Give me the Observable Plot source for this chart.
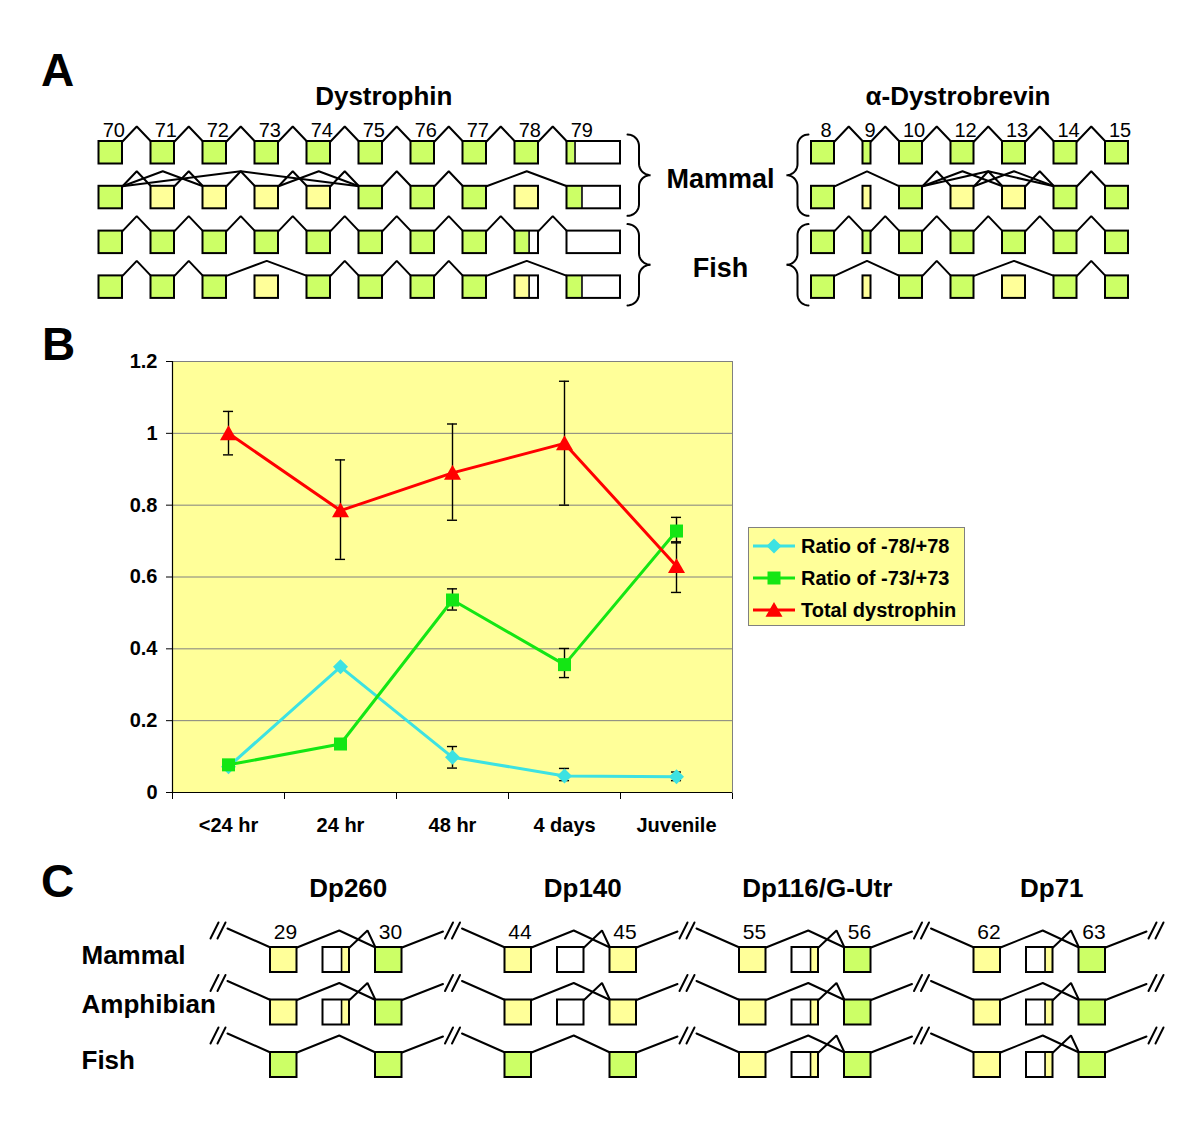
<!DOCTYPE html>
<html><head><meta charset="utf-8">
<script src="https://cdn.jsdelivr.net/npm/d3@7"></script>
<script src="https://cdn.jsdelivr.net/npm/@observablehq/plot@0.6"></script>
<style>
body{margin:0;background:#fff;}
#fig{position:relative;width:1200px;height:1129px;background:#fff;overflow:hidden;}
#fig svg{position:absolute;left:0;}
</style></head>
<body><div id="fig"></div>
<script>
// ================= DATA =================
// ---- Panel B: line chart ----
const stages = ["<24 hr", "24 hr", "48 hr", "4 days", "Juvenile"];
const seriesNames = ["Ratio of -78/+78", "Ratio of -73/+73", "Total dystrophin"];
const ratio78     = [0.072, 0.350, 0.098, 0.046, 0.044];
const ratio78Low  = [null,  null,  0.068, 0.033, 0.033];
const ratio78High = [null,  null,  0.128, 0.067, 0.057];
const ratio73     = [0.077, 0.135, 0.536, 0.356, 0.728];
const ratio73Low  = [null,  null,  0.508, 0.320, 0.695];
const ratio73High = [null,  null,  0.567, 0.401, 0.766];
const totalDys     = [1.000, 0.785, 0.890, 0.972, 0.630];
const totalDysLow  = [0.940, 0.649, 0.758, 0.800, 0.557];
const totalDysHigh = [1.061, 0.926, 1.026, 1.145, 0.698];
const yTicks = [0, 0.2, 0.4, 0.6, 0.8, 1.0, 1.2];

// ---- Panel A: exon structures ----
const dystrophinExons = ["70","71","72","73","74","75","76","77","78","79"];
const dystrobrevinExons = ["8","9","10","12","13","14","15"];
// G = constitutive (green), Y = alternative (yellow), W = non-coding (white); "A/B:f" = split exon, f = share of first part
const dystrophinStates = [
  ["G","G","G","G","G","G","G","G","G","G/W:0.15"],
  ["G","Y","Y","Y","Y","G","G","G","Y","G/W:0.28"],
  ["G","G","G","G","G","G","G","G","G/W:0.6","W"],
  ["G","G","G","Y","G","G","G","G","Y/W:0.6","G/W:0.28"]
];
const dystrophinSplices = [
  "70-71 71-72 72-73 73-74 74-75 75-76 76-77 77-78 78-79",
  "70-71 70-72 71-72 70-75 72-73 73-74 73-75 74-75 75-76 76-77 77-79",
  "70-71 71-72 72-73 73-74 74-75 75-76 76-77 77-78 78-79",
  "70-71 71-72 72-74 74-75 75-76 76-77 77-79"
];
const dystrobrevinStates = [
  ["G","G","G","G","G","G","G"],
  ["G","Y","G","Y","Y","G","G"],
  ["G","G","G","G","G","G","G"],
  ["G","Y","G","G","Y","G","G"]
];
const dystrobrevinSplices = [
  "8-9 9-10 10-12 12-13 13-14 14-15",
  "8-10 10-12 10-13 10-14 12-13 12-14 13-14 14-15",
  "8-9 9-10 10-12 12-13 13-14 14-15",
  "8-10 10-12 12-14 14-15"
];
const panelAGroups = ["Mammal", "Fish"];
const panelATitles = ["Dystrophin", "α-Dystrobrevin"];

// ---- Panel C ----
const cGroups = ["Dp260", "Dp140", "Dp116/G-Utr", "Dp71"];
const cExonNumbers = [["29","30"], ["44","45"], ["55","56"], ["62","63"]];
const cSpecies = ["Mammal", "Amphibian", "Fish"];
const cMammal    = [["Y","W/Y:0.7","G"], ["Y","W","Y"], ["Y","W/Y:0.7","G"], ["Y","W/Y:0.7","G"]];
const cAmphibian = [["Y","W/Y:0.7","G"], ["Y","W","Y"], ["Y","W/Y:0.7","G"], ["Y","W/Y:0.7","G"]];
const cFish      = [["G","","G"],        ["G","","G"],   ["Y","W/Y:0.7","G"], ["Y","W/Y:0.7","G"]];

// ================= STYLE / LAYOUT =================
const FONT = "'Liberation Sans', Arial, Helvetica, sans-serif";
const GREEN = "#ccff66", YELLOW = "#ffff99", WHITE = "#ffffff";
const fillOf = {G: GREEN, Y: YELLOW, W: WHITE};
const colorsB = ["#3de2e2", "#14e614", "#ff0000"];
const fig = document.getElementById("fig");

function canvas(top, height, marks) {
  const svg = Plot.plot({
    width: 1200, height, margin: 0,
    x: {domain: [0, 1200], range: [0, 1200], axis: null},
    y: {domain: [top, top + height], range: [0, height], axis: null},
    color: {type: "identity"},
    style: {fontFamily: FONT, background: "transparent", overflow: "visible", color: "black"},
    marks
  });
  svg.style.top = top + "px";
  fig.appendChild(svg);
}

// box builder
function addBox(store, left, top, w, h, state) {
  if (!state) return;
  const [kinds, frac] = state.split(":");
  const ks = kinds.split("/");
  if (ks.length === 1) {
    store.fills.push({x1: left, x2: left + w, y1: top, y2: top + h, fill: fillOf[ks[0]]});
  } else {
    const xm = left + w * (+frac);
    store.fills.push({x1: left, x2: xm, y1: top, y2: top + h, fill: fillOf[ks[0]]});
    store.fills.push({x1: xm, x2: left + w, y1: top, y2: top + h, fill: fillOf[ks[1]]});
    store.dividers.push({x1: xm, x2: xm, y1: top, y2: top + h});
  }
  store.outlines.push({x1: left, x2: left + w, y1: top, y2: top + h});
}
function newStore() { return {fills: [], outlines: [], dividers: [], paths: [], labels: [], texts: []}; }
let pathId = 0;
function addPath(store, pts) { const id = pathId++; pts.forEach(([x, y]) => store.paths.push({id, x, y})); }

function braceSegments(xEnd, xTip, y0, y1) {
  const s = Math.sign(xTip - xEnd), r = Math.abs(xTip - xEnd) / 2, ym = (y0 + y1) / 2;
  const pts = [], N = 10;
  for (let k = 0; k <= N; k++) { const t = k / N * Math.PI / 2; pts.push([xEnd + s * r * Math.sin(t), y0 + r - r * Math.cos(t)]); }
  for (let k = 0; k <= N; k++) { const t = k / N * Math.PI / 2; pts.push([xEnd + 2 * s * r - s * r * Math.cos(t), ym - r + r * Math.sin(t)]); }
  for (let k = 0; k <= N; k++) { const t = k / N * Math.PI / 2; pts.push([xEnd + 2 * s * r - s * r * Math.sin(t), ym + r - r * Math.cos(t)]); }
  for (let k = 0; k <= N; k++) { const t = k / N * Math.PI / 2; pts.push([xEnd + s * r * Math.cos(t), y1 - r + r * Math.sin(t)]); }
  return pts;
}

function diagramMarks(st, lineW) {
  return [
    Plot.line(st.paths, {x: "x", y: "y", z: "id", stroke: "black", strokeWidth: lineW, strokeLinejoin: "miter"}),
    Plot.rect(st.fills, {x1: "x1", x2: "x2", y1: "y1", y2: "y2", fill: d => d.fill}),
    Plot.link(st.dividers, {x1: "x1", x2: "x2", y1: "y1", y2: "y2", stroke: "black", strokeWidth: 1.6}),
    Plot.rect(st.outlines, {x1: "x1", x2: "x2", y1: "y1", y2: "y2", fill: "none", stroke: "black", strokeWidth: 2}),
  ];
}

// ================= PANEL A =================
(function panelA() {
  const st = newStore();
  const GAP = 28.5, H = 22.5, TOP0 = 141, STEP = 44.8, PEAK = 15;
  function layout(exons, startX, widthOf) {
    let x = startX; const pos = {};
    exons.forEach(e => { const w = widthOf(e); pos[e] = {left: x, w}; x += w + GAP; });
    return pos;
  }
  const dysPos = layout(dystrophinExons, 98.5, e => e === "79" ? 53.5 : 23.5);
  const dbPos = layout(dystrobrevinExons, 811, e => e === "9" ? 8 : 23);
  function gene(exons, states, splices, pos) {
    states.forEach((row, r) => {
      const top = TOP0 + r * STEP;
      splices[r].split(" ").forEach(p => {
        const [a, b] = p.split("-");
        const xa = pos[a].left + pos[a].w, xb = pos[b].left, xm = (xa + xb) / 2;
        addPath(st, [[xa, top], [xm, top - PEAK], [xb, top]]);
      });
      exons.forEach((e, i) => addBox(st, pos[e].left, top, pos[e].w, H, row[i]));
    });
    exons.forEach(e => st.labels.push({text: e, x: pos[e].left + Math.min(pos[e].w, 23.5) / 2 + 3, y: 130}));
  }
  gene(dystrophinExons, dystrophinStates, dystrophinSplices, dysPos);
  gene(dystrobrevinExons, dystrobrevinStates, dystrobrevinSplices, dbPos);

  // braces: rows 0-1 (Mammal), rows 2-3 (Fish)
  const braceRight = dysPos["79"].left + dysPos["79"].w + 7;
  const braceLeft = dbPos["8"].left - 3;
  const groupMid = [];
  panelAGroups.forEach((g, k) => {
    const y0 = TOP0 + 2 * k * STEP - 7, y1 = TOP0 + (2 * k + 1) * STEP + H + 7;
    addPath(st, braceSegments(braceRight, braceRight + 23, y0, y1));
    addPath(st, braceSegments(braceLeft, braceLeft - 22, y0, y1));
    groupMid.push({text: g, x: (braceRight + 23 + braceLeft - 22) / 2 + 2, y: (y0 + y1) / 2 + 4});
  });
  const titleX = [ (dysPos["70"].left + dysPos["79"].left + dysPos["79"].w) / 2 + 24, (dbPos["8"].left + dbPos["15"].left + 23) / 2 - 12 ];

  canvas(0, 320, [
    ...diagramMarks(st, 2),
    Plot.text(st.labels, {x: "x", y: "y", text: "text", fontSize: 20, fill: "black"}),
    Plot.text(groupMid, {x: "x", y: "y", text: "text", fontSize: 27, fontWeight: "bold", fill: "black"}),
    Plot.text(panelATitles, {x: (d, i) => titleX[i], y: () => 96, text: d => d, fontSize: 26, fontWeight: "bold", fill: "black"}),
    Plot.text(["A"], {x: () => 57, y: () => 71, text: d => d, fontSize: 46, fontWeight: "bold", fill: "black"})
  ]);
})();

// ================= PANEL B =================
const symDiamond = {draw(ctx, size) { const r = Math.sqrt(size / Math.PI); ctx.moveTo(0, -r); ctx.lineTo(r, 0); ctx.lineTo(0, r); ctx.lineTo(-r, 0); ctx.closePath(); }};
const symSquare = {draw(ctx, size) { const r = Math.sqrt(size / Math.PI); ctx.rect(-r, -r, 2 * r, 2 * r); }};
const symTriangle = {draw(ctx, size) { const r = Math.sqrt(size / Math.PI); ctx.moveTo(0, -r * 0.95); ctx.lineTo(r, r * 0.8); ctx.lineTo(-r, r * 0.8); ctx.closePath(); }};
const symbolsB = [symDiamond, symSquare, symTriangle];
const markerR = [7.5, 6.5, 8.5];

(function panelB() {
  const series = [
    {values: ratio78, lo: ratio78Low, hi: ratio78High},
    {values: ratio73, lo: ratio73Low, hi: ratio73High},
    {values: totalDys, lo: totalDysLow, hi: totalDysHigh}
  ];
  const rows = [];
  series.forEach((s, k) => stages.forEach((stg, i) => rows.push({series: seriesNames[k], k, stage: stg, value: s.values[i], lo: s.lo[i], hi: s.hi[i]})));
  const xpos = d => stages.indexOf(d.stage) + 0.5;
  const errs = rows.filter(d => d.lo != null);
  const CAP = 0.045;
  const top = 320, height = 530;
  const svg = Plot.plot({
    width: 1200, height,
    marginLeft: 172, marginRight: 468, marginTop: 41, marginBottom: 58,
    x: {domain: [0, stages.length], ticks: d3.range(stages.length + 1), tickFormat: () => "", tickSize: 7, label: null},
    y: {domain: [0, 1.2], ticks: yTicks, tickFormat: d => String(+d.toFixed(1)), tickSize: 6, tickPadding: 9, label: null},
    color: {domain: seriesNames, range: colorsB},
    style: {fontFamily: FONT, fontSize: "20px", fontWeight: "bold", background: "transparent", overflow: "visible", color: "black"},
    marks: [
      Plot.frame({fill: "#ffff99", stroke: "#808080"}),
      Plot.ruleY(yTicks, {stroke: "#808080", strokeWidth: 1}),
      Plot.ruleX([0], {stroke: "black", strokeWidth: 1.2}),
      Plot.ruleY([0], {stroke: "black", strokeWidth: 1.2}),
      Plot.line(rows, {x: xpos, y: "value", z: "series", stroke: "series", strokeWidth: 3}),
      Plot.ruleX(errs, {x: xpos, y1: "lo", y2: "hi", stroke: "black", strokeWidth: 1.4}),
      Plot.ruleY(errs, {y: "lo", x1: d => xpos(d) - CAP, x2: d => xpos(d) + CAP, stroke: "black", strokeWidth: 1.4}),
      Plot.ruleY(errs, {y: "hi", x1: d => xpos(d) - CAP, x2: d => xpos(d) + CAP, stroke: "black", strokeWidth: 1.4}),
      ...seriesNames.map((name, k) => Plot.dot(rows.filter(d => d.k === k), {x: xpos, y: "value", symbol: symbolsB[k], r: markerR[k], fill: colorsB[k], stroke: "none"})),
      Plot.text(stages, {x: (d, i) => i + 0.5, y: () => 0, dy: 33, text: d => d, fontSize: 20, fontWeight: "bold", fill: "black"}),
      Plot.text(["B"], {frameAnchor: "top-left", dx: -114, dy: -16, text: d => d, textAnchor: "middle", lineAnchor: "middle", fontSize: 46, fontWeight: "bold", fill: "black"})
    ]
  });
  svg.style.top = top + "px";
  fig.appendChild(svg);

  // legend
  const leg = d3.create("svg").attr("width", 218).attr("height", 100)
    .style("position", "absolute").style("left", "748px").style("top", "527px");
  leg.append("rect").attr("x", 0.5).attr("y", 0.5).attr("width", 216).attr("height", 98).attr("fill", "#ffff99").attr("stroke", "#808080");
  seriesNames.forEach((name, k) => {
    const cy = 19 + 32 * k;
    leg.append("line").attr("x1", 5).attr("x2", 47).attr("y1", cy).attr("y2", cy).attr("stroke", colorsB[k]).attr("stroke-width", 3);
    leg.append("path").attr("transform", `translate(26,${cy})`).attr("d", d3.symbol(symbolsB[k], Math.PI * markerR[k] ** 2)()).attr("fill", colorsB[k]);
    leg.append("text").attr("x", 53).attr("y", cy).attr("dy", "0.36em").text(name)
      .attr("font-family", FONT).attr("font-size", 20).attr("font-weight", "bold").attr("fill", "black");
  });
  fig.appendChild(leg.node());
})();

// ================= PANEL C =================
(function panelC() {
  const st = newStore();
  const TOP0 = 947, ROW = 52.5, W = 26.5, H = 25, G0 = 270, GSTEP = 234.5, SLOT = 52.5, BREAK0 = 218, PEAK = 17;
  const speciesStates = [cMammal, cAmphibian, cFish];
  speciesStates.forEach((groups, s) => {
    const T = TOP0 + s * ROW;
    for (let k = 0; k <= cGroups.length; k++) {
      const c = BREAK0 + k * GSTEP;
      addPath(st, [[c - 8, T - 9], [c, T - 25]]);
      addPath(st, [[c - 1, T - 9], [c + 7, T - 25]]);
    }
    groups.forEach((states, g) => {
      const x0 = G0 + g * GSTEP, c = BREAK0 + g * GSTEP, cNext = BREAK0 + (g + 1) * GSTEP;
      addPath(st, [[c + 9, T - 19], [x0, T]]);
      addPath(st, [[x0 + W, T], [x0 + SLOT + W / 2 + 3, T - PEAK], [x0 + 2 * SLOT, T]]);
      if (states[1]) addPath(st, [[x0 + SLOT + W, T], [x0 + 2 * SLOT - 8, T - PEAK], [x0 + 2 * SLOT, T]]);
      addPath(st, [[x0 + 2 * SLOT + W, T], [cNext - 10, T - 16]]);
      states.forEach((state, j) => addBox(st, x0 + j * SLOT, T, W, H, state));
      if (s === 0) {
        st.labels.push({text: cExonNumbers[g][0], x: x0 + 15, y: T - 15});
        st.labels.push({text: cExonNumbers[g][1], x: x0 + 2 * SLOT + 15, y: T - 15});
      }
    });
  });
  const titles = cGroups.map((g, i) => ({text: g, x: G0 + i * GSTEP + SLOT + W / 2 + 12, y: 888}));
  const rowLabels = cSpecies.map((sp, s) => ({text: sp, x: 81, y: TOP0 + s * ROW + 8 - (s === 1 ? 3 : 0)}));
  canvas(850, 279, [
    ...diagramMarks(st, 2),
    Plot.text(st.labels, {x: "x", y: "y", text: "text", fontSize: 21, fill: "black"}),
    Plot.text(titles, {x: "x", y: "y", text: "text", fontSize: 26, fontWeight: "bold", fill: "black"}),
    Plot.text(rowLabels, {x: "x", y: "y", text: "text", textAnchor: "start", fontSize: 26, fontWeight: "bold", fill: "black"}),
    Plot.text(["C"], {x: () => 57, y: () => 882, text: d => d, fontSize: 46, fontWeight: "bold", fill: "black"})
  ]);
})();
</script>
</body></html>
